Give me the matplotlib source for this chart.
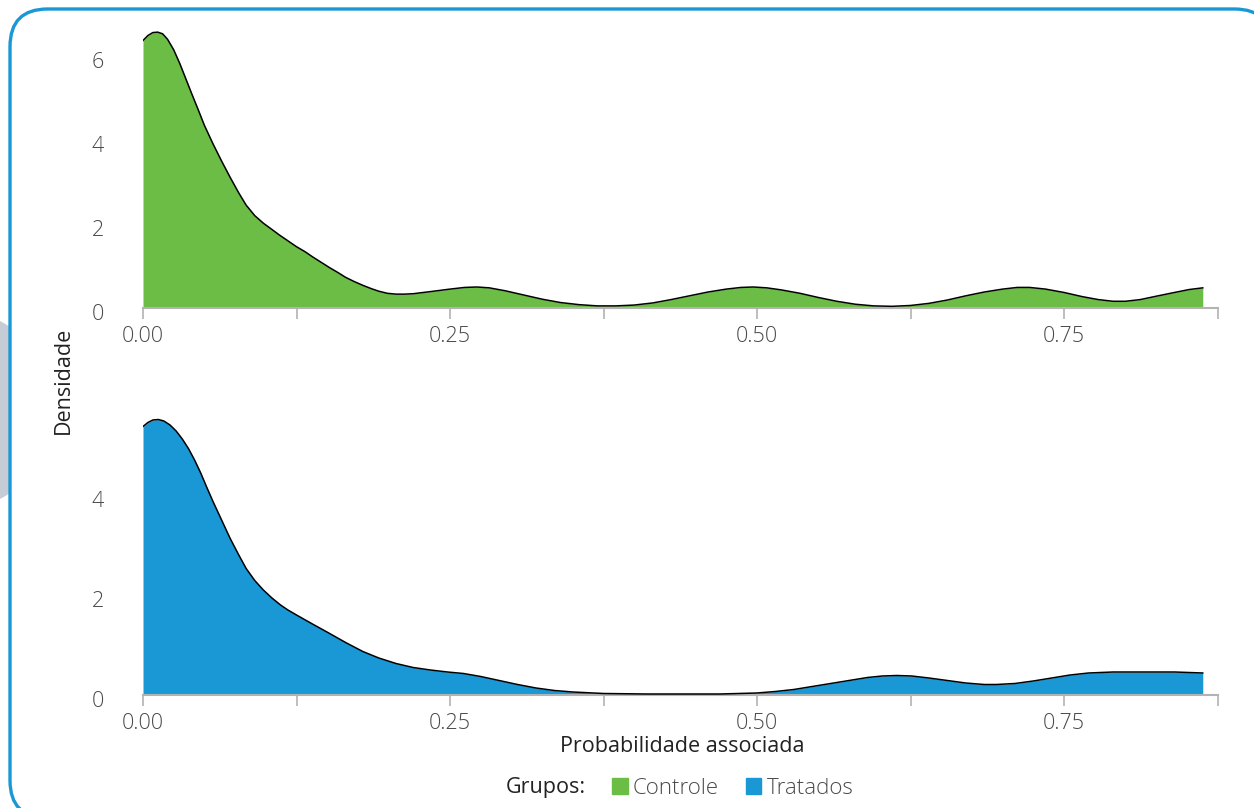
import matplotlib.pyplot as plt
from matplotlib.patches import FancyBboxPatch, Ellipse, Patch
from matplotlib.transforms import ScaledTranslation

# densities (x = probabilidade associada)
controle_x = [0.000, 0.004, 0.008, 0.012, 0.016, 0.020, 0.025, 0.030, 0.035, 0.040,
              0.045, 0.050, 0.057, 0.064, 0.071, 0.078, 0.084, 0.091, 0.098, 0.105,
              0.111, 0.118, 0.125, 0.132, 0.138, 0.145, 0.152, 0.159, 0.165, 0.172,
              0.179, 0.186, 0.192, 0.199, 0.206, 0.213, 0.220, 0.234, 0.250, 0.262,
              0.272, 0.282, 0.295, 0.310, 0.325, 0.340, 0.355, 0.370, 0.385, 0.400,
              0.415, 0.430, 0.445, 0.460, 0.475, 0.487, 0.497, 0.508, 0.520, 0.535,
              0.550, 0.565, 0.580, 0.595, 0.610, 0.625, 0.640, 0.655, 0.670, 0.685,
              0.700, 0.712, 0.722, 0.735, 0.750, 0.765, 0.778, 0.790, 0.800, 0.812,
              0.825, 0.840, 0.852, 0.863]
controle_d = [6.37, 6.49, 6.56, 6.57, 6.53, 6.40, 6.15, 5.82, 5.45, 5.08,
              4.72, 4.35, 3.91, 3.50, 3.11, 2.74, 2.45, 2.20, 2.02, 1.87,
              1.74, 1.60, 1.46, 1.34, 1.22, 1.09, 0.96, 0.84, 0.73, 0.63,
              0.54, 0.46, 0.40, 0.35, 0.33, 0.33, 0.34, 0.39, 0.45, 0.49,
              0.50, 0.48, 0.41, 0.31, 0.21, 0.13, 0.08, 0.05, 0.05, 0.07,
              0.12, 0.20, 0.29, 0.38, 0.45, 0.49, 0.50, 0.48, 0.43, 0.35,
              0.25, 0.16, 0.09, 0.05, 0.04, 0.06, 0.11, 0.19, 0.29, 0.38,
              0.45, 0.49, 0.49, 0.45, 0.37, 0.27, 0.20, 0.16, 0.16, 0.20,
              0.28, 0.37, 0.44, 0.48]

tratados_x = [0.000, 0.004, 0.008, 0.0125, 0.017, 0.022, 0.027, 0.032, 0.037, 0.042,
              0.047, 0.052, 0.057, 0.064, 0.071, 0.078, 0.084, 0.091, 0.098, 0.105,
              0.112, 0.118, 0.125, 0.138, 0.152, 0.165, 0.179, 0.192, 0.206, 0.220,
              0.234, 0.248, 0.261, 0.275, 0.290, 0.305, 0.320, 0.335, 0.350, 0.375,
              0.410, 0.440, 0.470, 0.500, 0.515, 0.530, 0.545, 0.560, 0.575, 0.590,
              0.602, 0.614, 0.626, 0.640, 0.655, 0.670, 0.685, 0.695, 0.710, 0.725,
              0.740, 0.755, 0.770, 0.790, 0.810, 0.840, 0.863]
tratados_d = [5.37, 5.45, 5.50, 5.51, 5.48, 5.40, 5.28, 5.12, 4.93, 4.70,
              4.44, 4.15, 3.87, 3.50, 3.13, 2.80, 2.53, 2.29, 2.10, 1.94,
              1.80, 1.70, 1.60, 1.42, 1.23, 1.05, 0.87, 0.74, 0.63, 0.55,
              0.50, 0.46, 0.43, 0.37, 0.29, 0.21, 0.14, 0.09, 0.06, 0.03,
              0.02, 0.02, 0.02, 0.04, 0.07, 0.11, 0.17, 0.23, 0.29, 0.35,
              0.38, 0.39, 0.38, 0.34, 0.29, 0.24, 0.21, 0.21, 0.23, 0.28,
              0.34, 0.40, 0.44, 0.46, 0.46, 0.46, 0.44]

x_major = [0.0, 0.25, 0.5, 0.75]
x_minor = [0.125, 0.375, 0.625, 0.875]
x_labels = ["0.00", "0.25", "0.50", "0.75"]

GREEN = "#6cbd45"
BLUE = "#1a98d6"
plt.rcParams["font.family"] = ["Open Sans", "DejaVu Sans"]

fig = plt.figure(figsize=(12.54, 8.08), dpi=100)

# background decoration: grey blob and rounded blue frame (behind the axes)
W, H = 1254, 808
fig.patches.append(Ellipse((-47 / W, 1 - 410 / H), 200 / W, 200 / H,
                           transform=fig.transFigure, color="#c6ccd6", zorder=-3))
fig.patches.append(FancyBboxPatch((10 / W, -10 / H), 1262 / W, 809 / H,
                                  boxstyle="round,pad=0,rounding_size=0.03",
                                  mutation_aspect=W / H,
                                  transform=fig.transFigure, facecolor="white",
                                  edgecolor=BLUE, linewidth=2.4, zorder=-2))

ax1 = fig.add_axes([143 / W, 1 - 308 / H, 1074.5 / W, 283 / H])
ax2 = fig.add_axes([143 / W, 1 - 695 / H, 1074.5 / W, 285 / H])


def style(ax, yticks, ymax):
    ax.set_facecolor("none")
    ax.set_xlim(0, 0.875)
    ax.set_ylim(0, ymax)
    for s in ["top", "right", "left"]:
        ax.spines[s].set_visible(False)
    ax.spines["bottom"].set_color("#b3b3b3")
    ax.spines["bottom"].set_linewidth(1.5)
    ax.set_xticks(x_major)
    ax.set_xticklabels(x_labels)
    ax.set_xticks(x_minor, minor=True)
    ax.tick_params(axis="x", which="both", length=8, width=1.2, color="#b3b3b3",
                   labelsize=15.5, labelcolor="#4a4a4a", pad=5)
    ax.set_yticks(yticks)
    ax.tick_params(axis="y", length=0, labelsize=15.5, labelcolor="#4a4a4a", pad=28)
    shift = ScaledTranslation(0, -0.04, fig.dpi_scale_trans)
    for lab in ax.get_yticklabels():
        lab.set_transform(lab.get_transform() + shift)
    for lab in ax.get_xticklabels() + ax.get_yticklabels():
        lab.set_fontweight("light")


ax1.fill_between(controle_x, controle_d, color=GREEN, linewidth=0, zorder=2)
ax1.plot(controle_x, controle_d, color="black", linewidth=1.1, zorder=3)
style(ax1, [0, 2, 4, 6], 6.74)

ax2.fill_between(tratados_x, tratados_d, color=BLUE, linewidth=0, zorder=2)
ax2.plot(tratados_x, tratados_d, color="black", linewidth=1.1, zorder=3)
style(ax2, [0, 2, 4], 5.7)

fig.text(63 / W, 1 - 380 / H, "Densidade", rotation=90, ha="center", va="center",
         fontsize=15.5, color="#222222", fontweight="medium")
fig.text(682 / W, 1 - 746 / H, "Probabilidade associada", ha="center", va="center",
         fontsize=15.5, color="#222222", fontweight="medium")

fig.text(546 / W, 1 - 788 / H, "Grupos:", ha="center", va="center",
         fontsize=15.5, color="#222222", fontweight="medium")
handles = [Patch(color=GREEN, label="Controle"), Patch(color=BLUE, label="Tratados")]
leg = fig.legend(handles=handles, loc="center left", bbox_to_anchor=(612 / W, 1 - 788 / H),
                 ncol=2, frameon=False, fontsize=16, handlelength=0.7, handleheight=0.7,
                 handletextpad=0.25, columnspacing=1.2, borderaxespad=0, borderpad=0)
for t in leg.get_texts():
    t.set_color("#4a4a4a")
    t.set_fontweight("light")

fig.savefig("out.png", dpi=100)
